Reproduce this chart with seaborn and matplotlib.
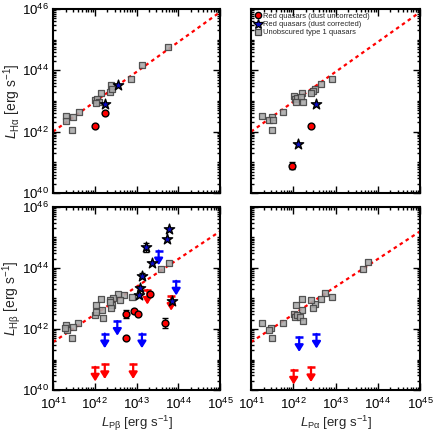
import numpy as np
import matplotlib
matplotlib.use("Agg")
import matplotlib.pyplot as plt
from matplotlib.lines import Line2D
from matplotlib.ticker import FixedLocator, LogLocator, FuncFormatter, NullFormatter
import seaborn as sns

sns.set_style("ticks")
plt.rcParams['font.family'] = ['Liberation Sans', 'DejaVu Sans']
plt.rcParams['mathtext.fontset'] = 'custom'
plt.rcParams['mathtext.rm'] = 'Liberation Sans'
plt.rcParams['mathtext.it'] = 'Liberation Sans:italic'
plt.rcParams['mathtext.bf'] = 'Liberation Sans:bold'

# ---------------- data (log10 luminosities) ----------------
# Top-left: L_Pbeta vs L_Halpha
tl_sq_x = [43.76, 43.13, 42.86, 42.40, 42.37, 42.42, 42.16, 42.00, 42.05, 42.10, 42.03, 41.62, 41.48, 41.32, 41.30, 41.46]
tl_sq_y = [44.75, 44.16, 43.72, 43.52, 43.30, 43.38, 43.27, 43.03, 43.07, 42.98, 42.95, 42.65, 42.47, 42.51, 42.36, 42.05]
tl_red_x = [42.25, 42.01]
tl_red_y = [42.60, 42.18]
tl_star_x = [42.56, 42.25]
tl_star_y = [43.52, 42.90]

# Top-right: L_Palpha vs L_Halpha
tr_sq_x = [42.92, 42.66, 42.52, 42.47, 42.42, 42.21, 42.01, 42.03, 42.10, 42.18, 42.07, 42.22, 41.75, 41.49, 41.43, 41.51, 41.25, 41.49]
tr_sq_y = [43.72, 43.55, 43.38, 43.34, 43.25, 43.25, 43.16, 43.06, 43.09, 43.14, 42.98, 42.98, 42.65, 42.47, 42.38, 42.38, 42.52, 42.05]
tr_red_x = [42.43, 41.98]
tr_red_y = [42.19, 40.89]
tr_red_err = [0.0, 0.12]
tr_star_x = [42.55, 42.11]
tr_star_y = [42.89, 41.59]

# Bottom-left: L_Pbeta vs L_Hbeta
bl_sq_x = [43.77, 43.59, 42.88, 42.70, 42.56, 42.44, 42.60, 42.37, 42.16, 42.04, 42.00, 42.41, 42.40, 42.36, 42.17, 42.20, 42.02, 41.60, 41.48, 41.32, 41.34, 41.28, 41.46]
bl_sq_y = [44.17, 43.97, 43.06, 43.11, 43.15, 43.00, 42.95, 42.95, 42.97, 42.79, 42.46, 42.79, 42.68, 42.87, 42.62, 42.37, 42.55, 42.19, 42.08, 42.12, 41.97, 42.03, 41.69]
bl_star_x = [43.78, 43.74, 43.22, 43.38, 43.13, 43.09, 43.06, 43.84]
bl_star_y = [45.27, 44.94, 44.68, 44.17, 43.74, 43.35, 43.11, 42.92]
bl_star_err = [0.0, 0.0, 0.15, 0.0, 0.08, 0.06, 0.0, 0.0]
bl_red_x = [43.33, 42.74, 42.94, 43.04, 43.69, 42.74]
bl_red_y = [43.15, 42.49, 42.60, 42.49, 42.19, 41.69]
bl_red_err = [0.0, 0.13, 0.0, 0.0, 0.16, 0.0]
bl_redlim_x = [43.26, 43.83, 42.01, 42.24, 42.92]
bl_redlim_y = [43.28, 43.08, 40.76, 40.84, 40.84]
bl_bluelim_x = [43.53, 43.95, 42.54, 42.24, 43.13]
bl_bluelim_y = [44.57, 43.58, 42.26, 41.85, 41.85]

# Bottom-right: L_Palpha vs L_Hbeta
br_sq_x = [43.76, 43.65, 42.92, 42.75, 42.66, 42.52, 42.42, 42.47, 42.21, 42.07, 42.20, 42.01, 42.03, 42.10, 42.15, 42.22, 41.75, 41.47, 41.42, 41.25, 41.49]
br_sq_y = [44.19, 43.97, 43.06, 43.17, 42.97, 42.81, 42.95, 42.68, 42.98, 42.79, 42.62, 42.50, 42.38, 42.45, 42.40, 42.26, 42.19, 42.04, 41.98, 42.19, 41.69]
br_redlim_x = [42.01, 42.42]
br_redlim_y = [40.66, 40.74]
br_bluelim_x = [42.14, 42.55]
br_bluelim_y = [41.73, 41.84]

# relation lines (endpoints)
fit_x = [41.0, 45.0]
fit_top_y = [42.0, 45.9]
fit_bot_y = [41.57, 45.2]

x_ticks = [41, 42, 43, 44, 45]
y_ticks = [40, 42, 44, 46]

# ---------------- styles ----------------
SQ_FACE = '#ababab'
SQ_EDGE = '#454545'
RED = '#ff0000'
STAR_BLUE = '#0a0ac8'
LIM_BLUE = '#0000ff'

fig = plt.figure(figsize=(4.4, 4.4), dpi=100)
ax_tl = fig.add_axes([0.1205, 0.5614, 0.3795, 0.418])
ax_tr = fig.add_axes([0.5705, 0.5614, 0.384, 0.418])
ax_bl = fig.add_axes([0.1205, 0.1136, 0.3795, 0.416])
ax_br = fig.add_axes([0.5705, 0.1136, 0.384, 0.416])


def p(v):
    return 10 ** np.asarray(v, dtype=float)


def setup(ax, xlabels, ylabels):
    ax.set_xscale('log')
    ax.set_yscale('log')
    ax.set_xlim(1e41, 1e45)
    ax.set_ylim(1e40, 1e46)
    ax.xaxis.set_major_locator(FixedLocator(p(x_ticks)))
    ax.yaxis.set_major_locator(FixedLocator(p(y_ticks)))
    ax.xaxis.set_minor_locator(LogLocator(base=10, subs=np.arange(1, 10), numticks=100))
    ax.yaxis.set_minor_locator(LogLocator(base=10, subs=np.arange(1, 10), numticks=100))
    fmt = FuncFormatter(lambda v, _: r'$\mathregular{10^{%d}}$' % int(round(np.log10(v))))
    ax.xaxis.set_major_formatter(fmt if xlabels else NullFormatter())
    ax.yaxis.set_major_formatter(fmt if ylabels else NullFormatter())
    ax.xaxis.set_minor_formatter(NullFormatter())
    ax.yaxis.set_minor_formatter(NullFormatter())
    ax.tick_params(which='both', direction='in', top=True, right=True, width=1.0, colors='black',
                   labelsize=9.5)
    ax.tick_params(axis='x', which='both', pad=5)
    ax.tick_params(axis='y', which='both', pad=3)
    ax.tick_params(which='major', length=5)
    ax.tick_params(which='minor', length=2.5)
    for s in ax.spines.values():
        s.set_linewidth(1.5)
        s.set_color('black')


def errs(ax, xs, ys, err):
    e = np.asarray(err)
    m = e > 0
    yy = p(ys)
    lo = yy - p(np.asarray(ys) - e)
    hi = p(np.asarray(ys) + e) - yy
    ax.errorbar(p(xs)[m], yy[m], yerr=[lo[m], hi[m]], fmt='none', ecolor='black',
                elinewidth=1.0, capsize=2, capthick=1.0, zorder=4)


def squares(ax, xs, ys):
    sns.scatterplot(x=p(xs), y=p(ys), marker='s', s=19, color=SQ_FACE, edgecolor=SQ_EDGE,
                    linewidth=0.9, alpha=0.9, ax=ax, zorder=3, legend=False)


def circles(ax, xs, ys, err=None):
    if err is not None:
        errs(ax, xs, ys, err)
    sns.scatterplot(x=p(xs), y=p(ys), marker='o', s=24, color=RED, edgecolor='black',
                    linewidth=1.0, ax=ax, zorder=6, legend=False)


def stars(ax, xs, ys, err=None):
    if err is not None:
        errs(ax, xs, ys, err)
    sns.scatterplot(x=p(xs), y=p(ys), marker='*', s=60, color=STAR_BLUE, edgecolor='black',
                    linewidth=1.0, ax=ax, zorder=5, legend=False)


def limits(ax, xs, ys, color):
    for x, y in zip(xs, ys):
        ax.annotate('', xy=(10 ** x, 10 ** (y - 0.48)), xytext=(10 ** x, 10 ** y),
                    arrowprops=dict(arrowstyle='-|>,head_length=0.4,head_width=0.25',
                                    color=color, lw=1.6, shrinkA=0, shrinkB=0),
                    zorder=4)
    sns.scatterplot(x=p(xs), y=p(ys), marker='_', s=36, color=color, linewidth=1.8,
                    ax=ax, zorder=4, legend=False)


def fitline(ax, ys):
    sns.lineplot(x=p(fit_x), y=p(ys), color=RED, linestyle=(0, (1.6, 1.6)), linewidth=1.6,
                 ax=ax, zorder=2, legend=False)


XLAB_FS = 9.5
YLAB_FS = 10
YLAB_X = -0.18

# Top-left
setup(ax_tl, False, True)
fitline(ax_tl, fit_top_y)
squares(ax_tl, tl_sq_x, tl_sq_y)
stars(ax_tl, tl_star_x, tl_star_y)
circles(ax_tl, tl_red_x, tl_red_y)
ax_tl.set_ylabel(r'$\it{L}_{\mathregular{H\alpha}}$ [erg s$^{\mathregular{-1}}$]', fontsize=YLAB_FS)
ax_tl.yaxis.set_label_coords(YLAB_X, 0.5)

# Top-right
setup(ax_tr, False, False)
fitline(ax_tr, fit_top_y)
squares(ax_tr, tr_sq_x, tr_sq_y)
stars(ax_tr, tr_star_x, tr_star_y)
circles(ax_tr, tr_red_x, tr_red_y, tr_red_err)

handles = [
    Line2D([], [], linestyle='none', marker='o', markersize=4.5, markerfacecolor=RED, markeredgecolor='black', markeredgewidth=1.0),
    Line2D([], [], linestyle='none', marker='*', markersize=7, markerfacecolor=STAR_BLUE, markeredgecolor='black', markeredgewidth=0.9),
    Line2D([], [], linestyle='none', marker='s', markersize=4.5, markerfacecolor=SQ_FACE, markeredgecolor=SQ_EDGE, markeredgewidth=0.9),
]
labels = ['Red quasars (dust uncorrected)', 'Red quasars (dust corrected)', 'Unobscured type 1 quasars']
ax_tr.legend(handles, labels, loc='upper left', fontsize=5.4, frameon=False, handlelength=0.8,
             handletextpad=0.3, labelspacing=0.12, borderpad=0.3, borderaxespad=0.2)

# Bottom-left
setup(ax_bl, True, True)
fitline(ax_bl, fit_bot_y)
squares(ax_bl, bl_sq_x, bl_sq_y)
limits(ax_bl, bl_bluelim_x, bl_bluelim_y, LIM_BLUE)
limits(ax_bl, bl_redlim_x, bl_redlim_y, RED)
stars(ax_bl, bl_star_x, bl_star_y, bl_star_err)
circles(ax_bl, bl_red_x, bl_red_y, bl_red_err)
ax_bl.set_ylabel(r'$\it{L}_{\mathregular{H\beta}}$ [erg s$^{\mathregular{-1}}$]', fontsize=YLAB_FS)
ax_bl.yaxis.set_label_coords(YLAB_X, 0.5)
ax_bl.set_xlabel(r'$\it{L}_{\mathregular{P\beta}}$ [erg s$^{\mathregular{-1}}$]', fontsize=XLAB_FS, labelpad=1)

# Bottom-right
setup(ax_br, True, False)
fitline(ax_br, fit_bot_y)
squares(ax_br, br_sq_x, br_sq_y)
limits(ax_br, br_bluelim_x, br_bluelim_y, LIM_BLUE)
limits(ax_br, br_redlim_x, br_redlim_y, RED)
ax_br.set_xlabel(r'$\it{L}_{\mathregular{P\alpha}}$ [erg s$^{\mathregular{-1}}$]', fontsize=XLAB_FS, labelpad=1)

fig.savefig('out.png', dpi=100)
